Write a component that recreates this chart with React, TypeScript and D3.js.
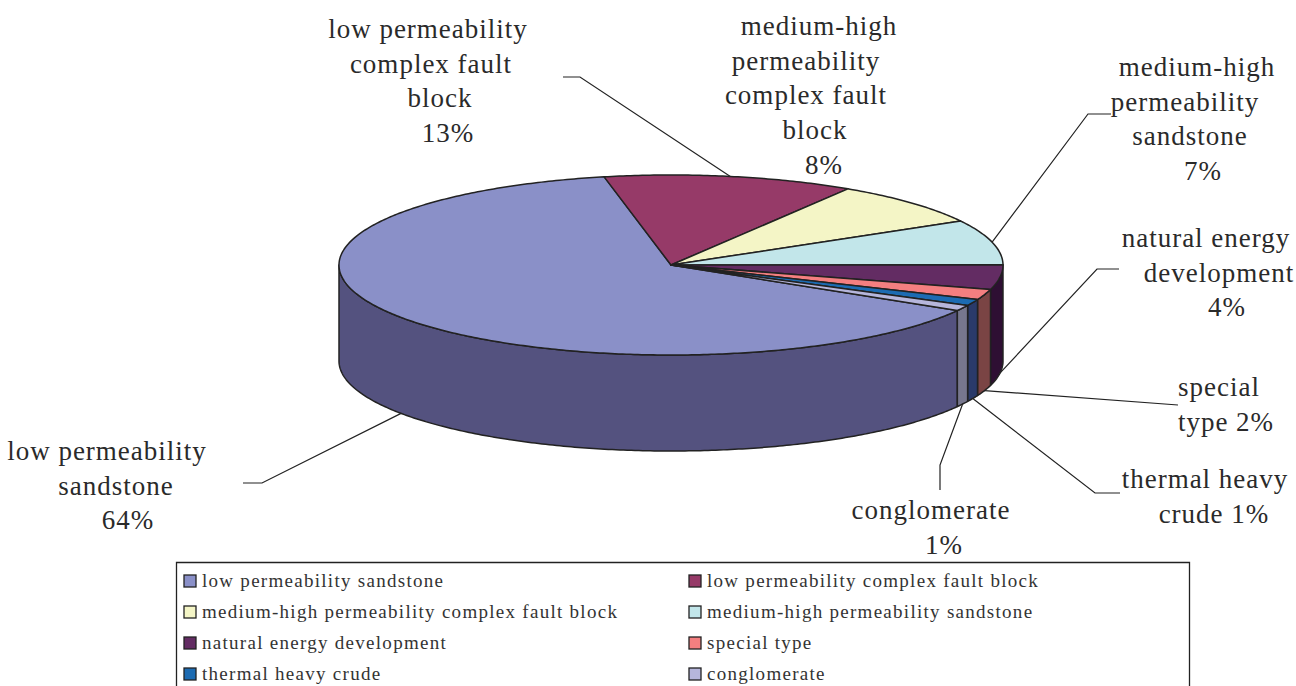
import React from "react";
import * as d3 from "d3";

const categories = [
  "low permeability sandstone",
  "low permeability complex fault block",
  "medium-high permeability complex fault block",
  "medium-high permeability sandstone",
  "natural energy development",
  "special type",
  "thermal heavy crude",
  "conglomerate",
];
const shares = [63.33, 12.17, 7.94, 8.06, 4.44, 1.89, 1.14, 1.03];
const topColors = ["#8a90c8", "#963a68", "#f4f5c6", "#c2e6ea", "#632c63", "#f47f80", "#1c6bb2", "#b6b6dc"];
const sideColors = ["#54527f", "#5e2442", "#98987c", "#78908f", "#2e0f33", "#7a4444", "#2a3a6a", "#77778e"];

const labelLines: [string, number][][] = [
  [["low permeability", 107], ["sandstone", 116], ["64%", 128]],
  [["low permeability", 428], ["complex fault", 431], ["block", 440], ["13%", 448]],
  [["medium-high", 819], ["permeability", 806], ["complex fault", 806], ["block", 815], ["8%", 824]],
  [["medium-high", 1197], ["permeability", 1185], ["sandstone", 1190], ["7%", 1203]],
  [["natural energy", 1206], ["development", 1219], ["4%", 1227]],
  [["special", 1219], ["type 2%", 1226]],
  [["thermal heavy", 1205], ["crude 1%", 1214]],
  [["conglomerate", 931], ["1%", 944]],
];
const labelFirstBaseline = [460, 38, 35, 76, 247, 396, 488, 519];
// leader line bends after leaving the slice rim (null = no leader)
const leaderBends: ([number, number][] | null)[] = [
  [[262, 483], [243, 483]],
  [[580, 77], [563, 77]],
  null,
  [[1088, 114], [1111, 114]],
  [[1097, 269], [1119, 269]],
  [[1178, 405]],
  [[1095, 493], [1120, 493]],
  [[940, 465], [940, 490]],
];

const W = 1296, H = 686;
const cx = 671, cy = 265, rx = 332, ry = 90, depth = 96;
const rad = Math.PI / 180;
const px = (a: number) => cx + rx * Math.sin(a);
const py = (a: number) => cy - ry * Math.cos(a);

const pie = d3.pie<number>().sort(null).startAngle(120.4 * rad).endAngle((120.4 + 360) * rad);
const arcs = pie(shares);

const lineGen = d3.line<[number, number]>();
const sample = (a0: number, a1: number) => {
  const n = Math.max(2, Math.ceil(((a1 - a0) / rad) * 1.5));
  return d3.range(n + 1).map((i) => a0 + ((a1 - a0) * i) / n);
};

const sidePath = (a0: number, a1: number) => {
  // visible front wall: angle in [90deg, 270deg]
  const pieces: string[] = [];
  const add = (l: number, h: number) => {
    if (h <= l) return;
    const s = sample(l, h);
    const top = s.map((a) => [px(a), py(a)] as [number, number]);
    const bottom = s.slice().reverse().map((a) => [px(a), py(a) + depth] as [number, number]);
    pieces.push(lineGen([...top, ...bottom])! + "Z");
  };
  add(Math.max(a0, Math.PI / 2), Math.min(a1, (3 * Math.PI) / 2));
  add(Math.max(a0, Math.PI / 2 + 2 * Math.PI), Math.min(a1, (3 * Math.PI) / 2 + 2 * Math.PI));
  return pieces.join("");
};

const topPath = (a0: number, a1: number) => {
  const rim = sample(a0, a1).map((a) => [px(a), py(a)] as [number, number]);
  return lineGen([[cx, cy], ...rim])! + "Z";
};

const leaderPoints = (i: number) => {
  const mid = (arcs[i].startAngle + arcs[i].endAngle) / 2;
  const norm = mid % (2 * Math.PI);
  const front = norm > Math.PI / 2 && norm < (3 * Math.PI) / 2;
  const start: [number, number] = [px(mid), py(mid) + (front ? depth : 0)];
  return [start, ...(leaderBends[i] as [number, number][])];
};

const serif = "'Liberation Serif', serif";
const ink = "#222";

export default function App() {
  const legendRows = d3.scalePoint<number>().domain([0, 1, 2, 3]).range([581, 674]);
  return (
    <svg width={W} height={H} viewBox={`0 0 ${W} ${H}`} style={{ position: "absolute", left: 0, top: 0, background: "#fff" }}>
      {arcs.map((d, i) => (
        <path key={i} d={sidePath(d.startAngle, d.endAngle)} fill={sideColors[i]} stroke={ink} strokeWidth={1.5} strokeLinejoin="round" />
      ))}
      {arcs.map((d, i) => (
        <path key={i} d={topPath(d.startAngle, d.endAngle)} fill={topColors[i]} stroke={ink} strokeWidth={1.5} strokeLinejoin="round" />
      ))}
      {leaderBends.map((b, i) =>
        b ? <path key={i} d={lineGen(leaderPoints(i))!} fill="none" stroke={ink} strokeWidth={1.2} /> : null
      )}
      {labelLines.map((lines, i) => (
        <text key={i} fontFamily={serif} fontSize={27} letterSpacing={1} fill="#2a2a2a" textAnchor="middle">
          {lines.map(([t, x], j) => (
            <tspan key={j} x={x} y={labelFirstBaseline[i] + j * 34.7}>{t}</tspan>
          ))}
        </text>
      ))}
      <path d={`M176.5 ${H}V562.5H1189.5V${H}`} fill="none" stroke={ink} strokeWidth={1.3} />
      {categories.map((c, i) => {
        const col = i % 2, row = Math.floor(i / 2);
        const y = legendRows(row)!;
        const x = col === 0 ? 184 : 689;
        return (
          <g key={c}>
            <rect x={x} y={y - 6} width={12} height={12} fill={topColors[i]} stroke={ink} strokeWidth={1.3} />
            <text x={x + 18} y={y + 6} fontFamily={serif} fontSize={19} letterSpacing={1.28} fill="#333">{c}</text>
          </g>
        );
      })}
    </svg>
  );
}
